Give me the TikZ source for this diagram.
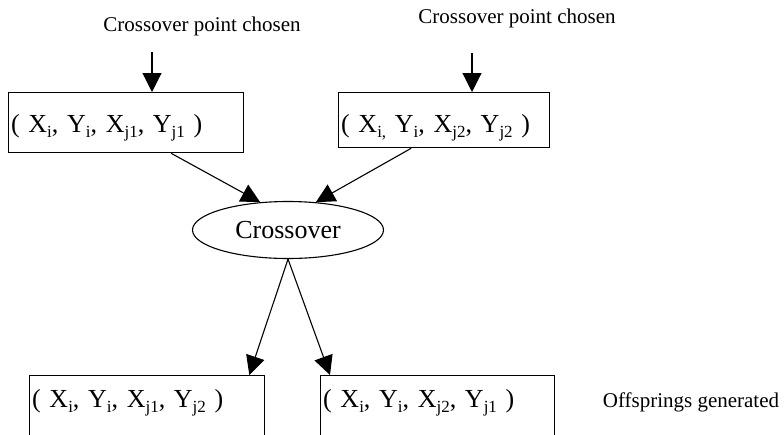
\documentclass[tikz,border=0pt]{standalone}
\usepackage{fontspec}
\setmainfont{Liberation Serif}
\usetikzlibrary{arrows.meta,positioning,shapes.geometric}

% subscript at a size that fits the big box text
\newcommand{\sbx}[1]{\raisebox{-0.2em}{\fontsize{17}{17}\selectfont #1}}

\begin{document}
\begin{tikzpicture}[x=1pt, y=-1pt,
    every node/.style={font=\fontsize{21}{24}\selectfont},
    chrom/.style={rectangle, draw, line width=1.3pt, anchor=north west,
        inner xsep=2.5pt, inner ysep=0pt, align=left,
        font=\fontsize{26}{30}\selectfont},
    arr/.style={line width=1.1pt, -{Triangle[length=19pt, width=19pt]}},
]

\useasboundingbox (0,0) rectangle (784,434);
\clip (0,0) rectangle (784,434);

% Parent chromosomes
\node[chrom, text width=230pt, text height=40pt, text depth=20pt] (par1) at (8,92)
    {( X\sbx{i}, Y\sbx{i}, X\sbx{j1}, Y\sbx{j1} )};
\node[chrom, text width=206pt, text height=40pt, text depth=15pt] (par2) at (338,92)
    {( X\sbx{i,} Y\sbx{i}, X\sbx{j2}, Y\sbx{j2} )};

% Crossover operator
\node[ellipse, draw, line width=1.1pt, minimum width=191pt, minimum height=57pt,
    inner sep=0pt, font=\fontsize{26}{30}\selectfont] (cross) at (288,230) {Crossover};

% Offspring chromosomes
\node[chrom, text width=230pt, text height=32pt, text depth=40pt] (off1) at (29,375)
    {( X\sbx{i}, Y\sbx{i}, X\sbx{j1}, Y\sbx{j2} )};
\node[chrom, text width=229pt, text height=32pt, text depth=40pt] (off2) at (320,375)
    {( X\sbx{i}, Y\sbx{i}, X\sbx{j2}, Y\sbx{j1} )};

% Labels
\node[anchor=base] (lab1) at (202,31) {Crossover point chosen};
\node[anchor=base] (lab2) at (517,23) {Crossover point chosen};
\node[anchor=base] (lab3) at (691,407) {Offsprings generated};

% Crossover points
\coordinate (cp1) at (152,52);
\coordinate (cp2) at (472,53);
\draw[arr] (cp1) -- (cp1 |- par1.north);
\draw[arr] (cp2) -- (cp2 |- par2.north);

% Parents into crossover
\draw[arr] ([xshift=45pt]par1.south) -- (cross.135);
\draw[arr] ([xshift=-33pt]par2.south) -- (cross.45);

% Crossover to offsprings
\draw[arr] (cross.south) -- ([xshift=-16pt]off1.north east);
\draw[arr] (cross.south) -- ([xshift=10pt]off2.north west);

\end{tikzpicture}
\end{document}
